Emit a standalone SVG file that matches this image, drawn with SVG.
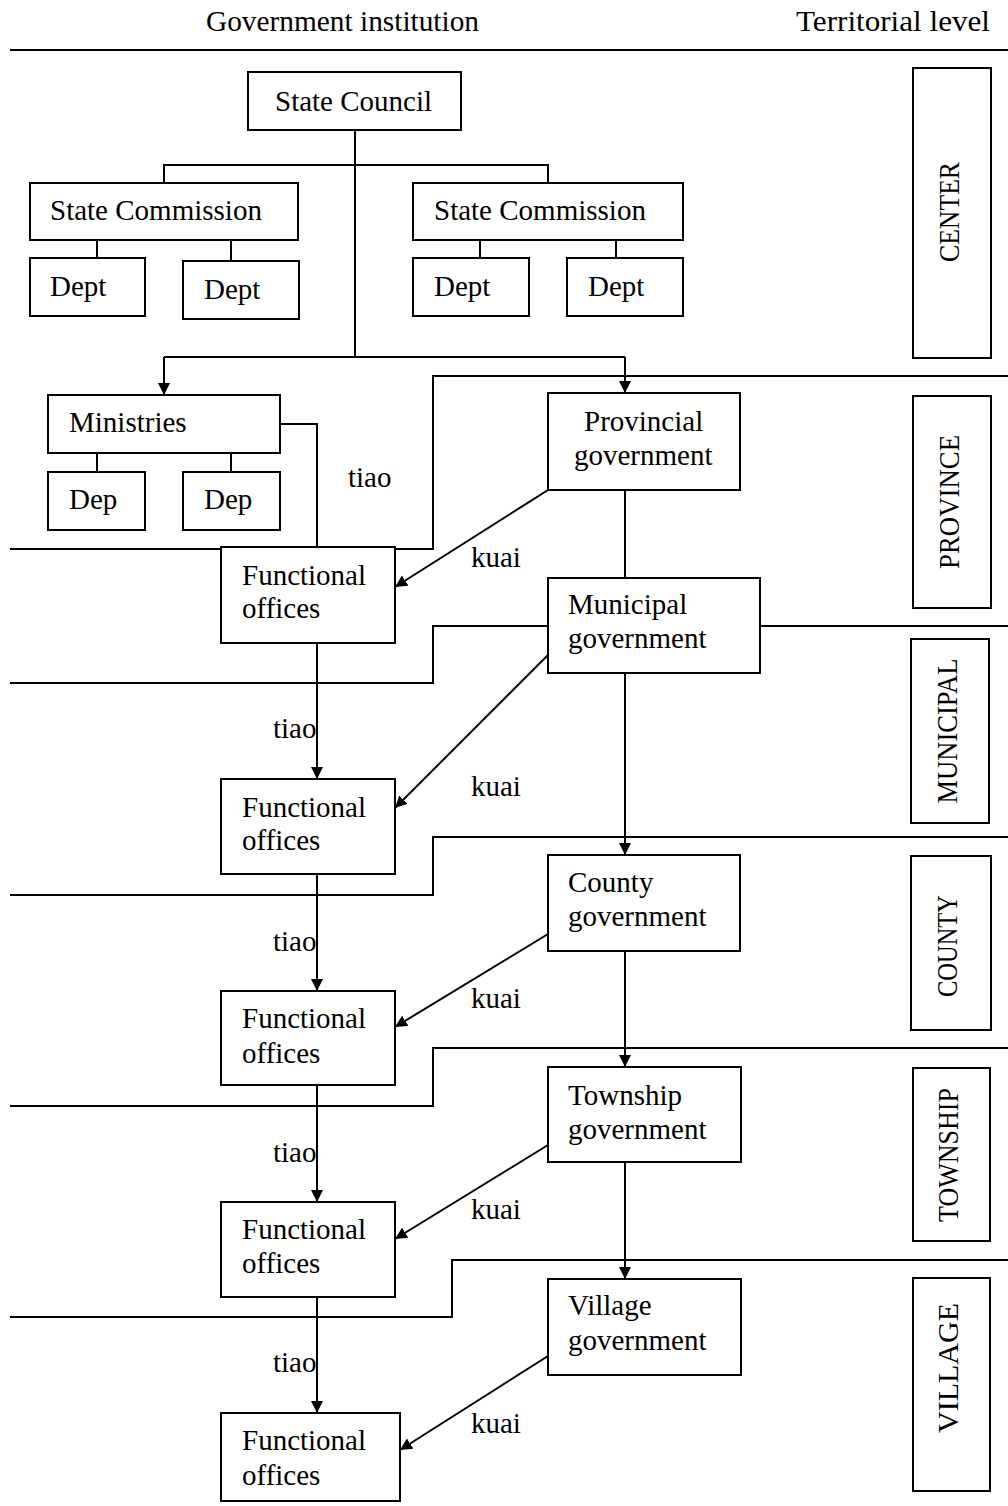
<svg xmlns="http://www.w3.org/2000/svg" width="1008" height="1506" viewBox="0 0 1008 1506">
  <style>
    text { font-family: "Liberation Serif", "Times New Roman", serif; font-size: 29px; fill: #000; }
    .box { fill: #fff; stroke: #000; stroke-width: 2; }
    .line { fill: none; stroke: #000; stroke-width: 2; }
    .band { fill: none; stroke: #000; stroke-width: 2; }
    .level { font-size: 29px; }
  </style>
  <defs>
    <marker id="arrow" markerUnits="userSpaceOnUse" markerWidth="12" markerHeight="12" refX="12" refY="6" orient="auto">
      <path d="M0,0 L12,6 L0,12 z" fill="#000"/>
    </marker>
  </defs>
  <rect width="1008" height="1506" fill="#fff"/>

  <!-- column headings -->
  <g id="headings">
    <text x="206" y="31" textLength="273" lengthAdjust="spacingAndGlyphs">Government institution</text>
    <text x="796" y="31" textLength="194" lengthAdjust="spacingAndGlyphs">Territorial level</text>
    <line x1="10" y1="50" x2="1008" y2="50" class="band"/>
  </g>

  <!-- territorial band boundaries -->
  <g id="bands">
    <polyline class="band" points="10,549 433,549 433,376 1008,376"/>
    <polyline class="band" points="10,683 433,683 433,626 1008,626"/>
    <polyline class="band" points="10,895 433,895 433,837 1008,837"/>
    <polyline class="band" points="10,1106 433,1106 433,1048 1008,1048"/>
    <polyline class="band" points="10,1317 452,1317 452,1260 1008,1260"/>
  </g>

  <!-- connectors -->
  <g id="connectors">
    <line class="line" x1="355" y1="130" x2="355" y2="357"/>
    <polyline class="line" points="164,183 164,165 548,165 548,183"/>
    <line class="line" x1="97" y1="240" x2="97" y2="258"/>
    <line class="line" x1="231" y1="240" x2="231" y2="261"/>
    <line class="line" x1="480" y1="240" x2="480" y2="258"/>
    <line class="line" x1="616" y1="240" x2="616" y2="258"/>
    <line class="line" x1="164" y1="357" x2="625" y2="357"/>
    <line class="line" x1="164" y1="357" x2="164" y2="395" marker-end="url(#arrow)"/>
    <line class="line" x1="625" y1="357" x2="625" y2="393" marker-end="url(#arrow)"/>
    <line class="line" x1="97" y1="453" x2="97" y2="472"/>
    <line class="line" x1="231" y1="453" x2="231" y2="472"/>
    <polyline class="line" points="280,424 317,424 317,547"/>
    <line class="line" x1="625" y1="490" x2="625" y2="578"/>
    <line class="line" x1="625" y1="673" x2="625" y2="855" marker-end="url(#arrow)"/>
    <line class="line" x1="625" y1="951" x2="625" y2="1067" marker-end="url(#arrow)"/>
    <line class="line" x1="625" y1="1162" x2="625" y2="1279" marker-end="url(#arrow)"/>
    <line class="line" x1="317" y1="643" x2="317" y2="779" marker-end="url(#arrow)"/>
    <line class="line" x1="317" y1="874" x2="317" y2="991" marker-end="url(#arrow)"/>
    <line class="line" x1="317" y1="1085" x2="317" y2="1202" marker-end="url(#arrow)"/>
    <line class="line" x1="317" y1="1297" x2="317" y2="1413" marker-end="url(#arrow)"/>
    <line class="line" x1="548" y1="490" x2="395" y2="587" marker-end="url(#arrow)"/>
    <line class="line" x1="548" y1="655" x2="395" y2="808" marker-end="url(#arrow)"/>
    <line class="line" x1="548" y1="934" x2="395" y2="1027" marker-end="url(#arrow)"/>
    <line class="line" x1="548" y1="1145" x2="395" y2="1239" marker-end="url(#arrow)"/>
    <line class="line" x1="548" y1="1356" x2="400" y2="1450" marker-end="url(#arrow)"/>
    <text x="348" y="487">tiao</text>
    <text x="273" y="738">tiao</text>
    <text x="273" y="951">tiao</text>
    <text x="273" y="1162">tiao</text>
    <text x="273" y="1372">tiao</text>
    <text x="471" y="567">kuai</text>
    <text x="471" y="796">kuai</text>
    <text x="471" y="1008">kuai</text>
    <text x="471" y="1219">kuai</text>
    <text x="471" y="1433">kuai</text>
  </g>

  <!-- central organs -->
  <g id="state-council"><rect class="box" x="248" y="72" width="213" height="58"/><text x="275" y="111">State Council</text></g>
  <g id="commission-left"><rect class="box" x="30" y="183" width="268" height="57"/><text x="50" y="220">State Commission</text></g>
  <g id="commission-right"><rect class="box" x="413" y="183" width="270" height="57"/><text x="434" y="220">State Commission</text></g>
  <g id="dept-1"><rect class="box" x="30" y="258" width="115" height="58"/><text x="50" y="296">Dept</text></g>
  <g id="dept-2"><rect class="box" x="183" y="261" width="116" height="58"/><text x="204" y="299">Dept</text></g>
  <g id="dept-3"><rect class="box" x="413" y="258" width="116" height="58"/><text x="434" y="296">Dept</text></g>
  <g id="dept-4"><rect class="box" x="567" y="258" width="116" height="58"/><text x="588" y="296">Dept</text></g>
  <g id="ministries"><rect class="box" x="48" y="395" width="232" height="58"/><text x="69" y="432">Ministries</text></g>
  <g id="dep-1"><rect class="box" x="48" y="472" width="97" height="58"/><text x="69" y="509">Dep</text></g>
  <g id="dep-2"><rect class="box" x="183" y="472" width="97" height="58"/><text x="204" y="509">Dep</text></g>

  <!-- local governments -->
  <g id="provincial"><rect class="box" x="548" y="393" width="192" height="97"/><text x="584" y="431">Provincial</text><text x="574" y="465">government</text></g>
  <g id="municipal"><rect class="box" x="548" y="578" width="212" height="95"/><text x="568" y="614">Municipal</text><text x="568" y="648">government</text></g>
  <g id="county"><rect class="box" x="548" y="855" width="192" height="96"/><text x="568" y="892">County</text><text x="568" y="926">government</text></g>
  <g id="township"><rect class="box" x="548" y="1067" width="193" height="95"/><text x="568" y="1105">Township</text><text x="568" y="1139">government</text></g>
  <g id="village"><rect class="box" x="548" y="1279" width="193" height="96"/><text x="568" y="1315">Village</text><text x="568" y="1350">government</text></g>

  <!-- functional offices -->
  <g id="offices-1"><rect class="box" x="221" y="547" width="174" height="96"/><text x="242" y="585">Functional</text><text x="242" y="618">offices</text></g>
  <g id="offices-2"><rect class="box" x="221" y="779" width="174" height="95"/><text x="242" y="817">Functional</text><text x="242" y="850">offices</text></g>
  <g id="offices-3"><rect class="box" x="221" y="991" width="174" height="94"/><text x="242" y="1028">Functional</text><text x="242" y="1063">offices</text></g>
  <g id="offices-4"><rect class="box" x="221" y="1202" width="174" height="95"/><text x="242" y="1239">Functional</text><text x="242" y="1273">offices</text></g>
  <g id="offices-5"><rect class="box" x="221" y="1413" width="179" height="88"/><text x="242" y="1450">Functional</text><text x="242" y="1485">offices</text></g>

  <!-- territorial level labels -->
  <g id="level-center"><rect class="box" x="913" y="68" width="78" height="290"/><text class="level" transform="translate(959,212) rotate(-90)" text-anchor="middle" textLength="100" lengthAdjust="spacingAndGlyphs">CENTER</text></g>
  <g id="level-province"><rect class="box" x="913" y="396" width="78" height="212"/><text class="level" transform="translate(959,502) rotate(-90)" text-anchor="middle" textLength="134" lengthAdjust="spacingAndGlyphs">PROVINCE</text></g>
  <g id="level-municipal"><rect class="box" x="911" y="639" width="78" height="184"/><text class="level" transform="translate(957,731) rotate(-90)" text-anchor="middle" textLength="145" lengthAdjust="spacingAndGlyphs">MUNICIPAL</text></g>
  <g id="level-county"><rect class="box" x="911" y="856" width="80" height="174"/><text class="level" transform="translate(957,946) rotate(-90)" text-anchor="middle" textLength="102" lengthAdjust="spacingAndGlyphs">COUNTY</text></g>
  <g id="level-township"><rect class="box" x="913" y="1068" width="77" height="173"/><text class="level" transform="translate(958,1155) rotate(-90)" text-anchor="middle" textLength="134" lengthAdjust="spacingAndGlyphs">TOWNSHIP</text></g>
  <g id="level-village"><rect class="box" x="913" y="1278" width="77" height="213"/><text class="level" transform="translate(958,1368) rotate(-90)" text-anchor="middle" textLength="130" lengthAdjust="spacingAndGlyphs">VILLAGE</text></g>
</svg>
